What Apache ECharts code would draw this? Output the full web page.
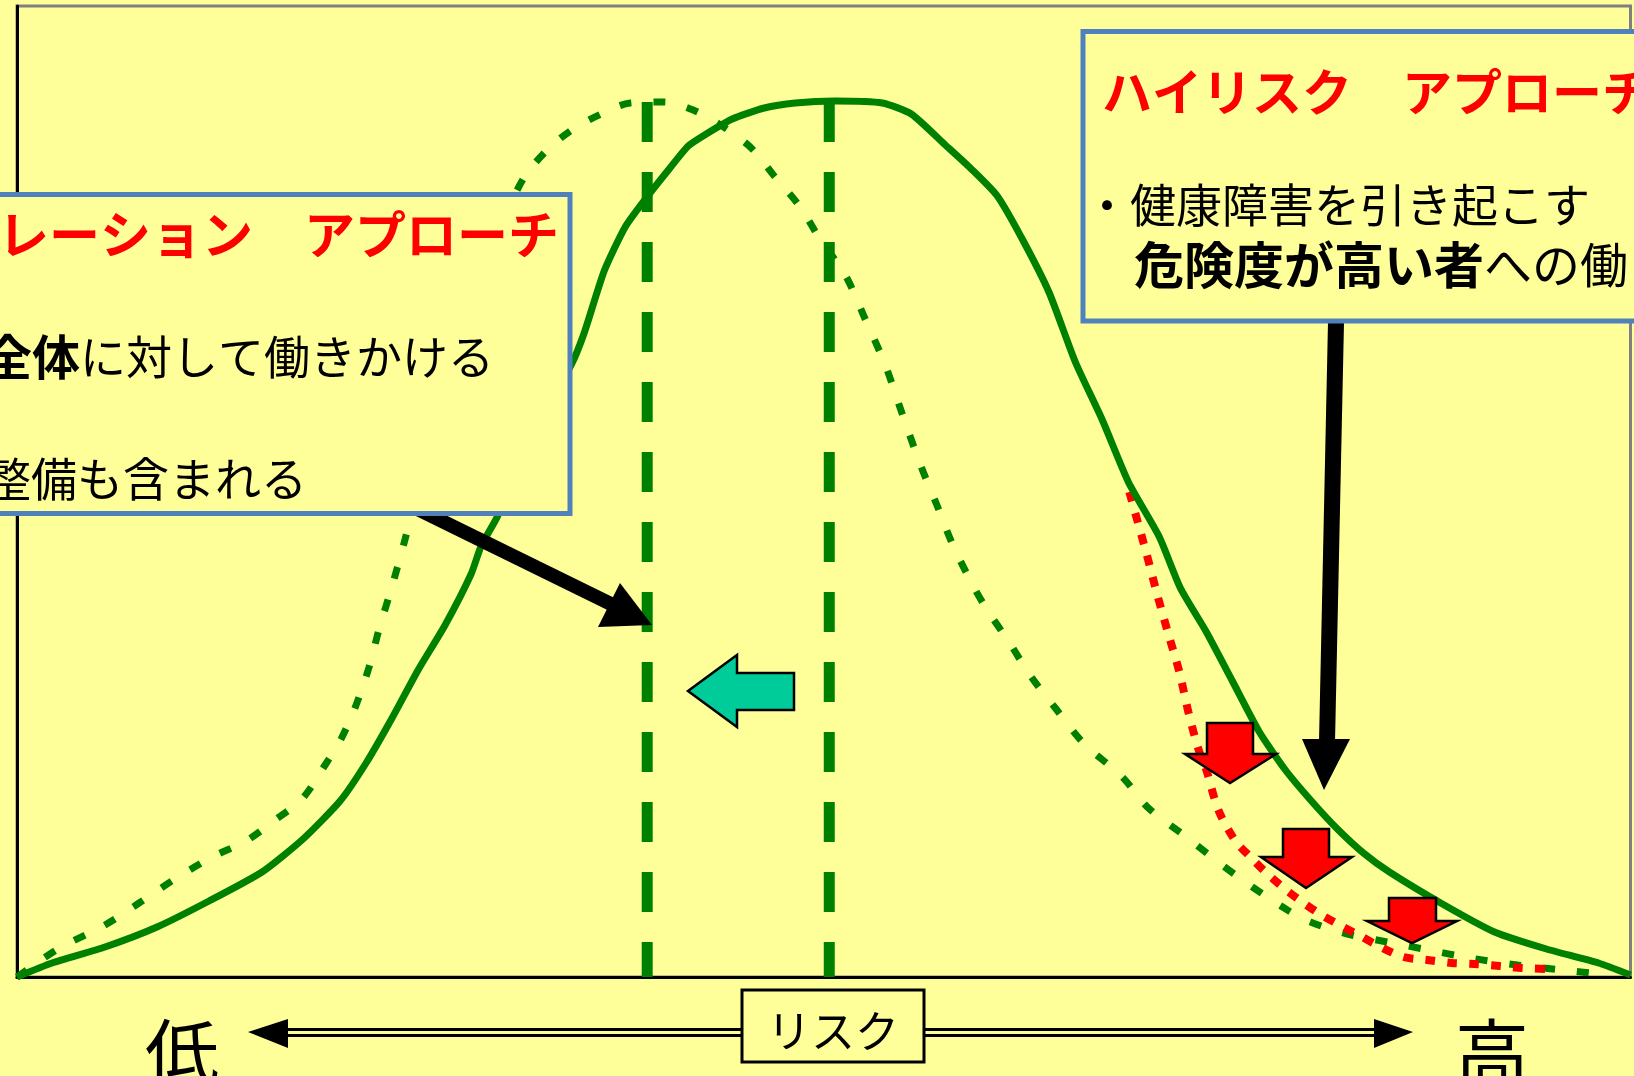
<!DOCTYPE html>
<html lang="ja">
<head>
<meta charset="utf-8">
<title>ポピュレーションアプローチとハイリスクアプローチ</title>
<script src="https://cdn.jsdelivr.net/npm/echarts@6/dist/echarts.min.js"></script>
<style>
    html, body { margin: 0; padding: 0; background: #FFFF99; }
    #chart { width: 1634px; height: 1076px; }
</style>
</head>
<body>
<div id="chart"></div>
<script>
    // リスク分布（横軸: リスク, 縦軸: 人数）
    var nowX = [0,35,88,140,192,245,286,323,349,375,401,428,454,464,480,513,554,567,587,608,629,652,671,689,715,747,778,818,865,894,928,954,980,1006,1032,1058,1085,1111,1142,1163,1189,1215,1242,1268,1294,1320,1346,1372,1425,1477,1529,1581,1613];
    var nowY = [0,14,30,50,76,105,138,176,214,259,307,352,403,431,460,537,612,644,706,750,779,808,831,843,858,869,874,876,874,863,832,808,781,736,684,615,557,495,440,389,345,296,245,207,176,148,124,105,73,45,28,14,2];

    // ポピュレーションアプローチ後（左へ移動した分布）
    var shiftX = [0,41,88,122,161,197,229,258,285,308,324,339,352,362,375,388,403,423,443,463,483,506,530,556,584,613,647,676,705,734,757,783,802,828,847,868,886,904,920,936,957,970,993,1014,1038,1066,1105,1131,1169,1202,1235,1270,1293,1330,1370,1406,1453,1500,1545,1593];
    var shiftY = [0,28,52,74,100,121,136,157,178,212,238,272,310,348,391,438,497,567,637,697,749,798,827,848,863,874,875,867,851,829,801,770,739,702,660,612,560,510,471,431,389,367,333,300,269,234,200,169,140,114,90,67,55,43,35,28,19,12,7,2];

    // ハイリスクアプローチ後（高リスク側のみ低下）
    var highX = [1112,1129,1140,1151,1162,1171,1181,1189,1201,1218,1232,1247,1264,1282,1301,1322,1343,1363,1386,1410,1434,1457,1482,1504,1529];
    var highY = [485,424,382,343,305,265,228,207,167,136,121,106,91,77,64,52,41,30,20,17,14,13,11,9,8];

    // 平均値（縦の破線）
    var meanX = [630, 812];
    var meanTop = 875;

    var BG = '#FFFF99';
    var GREEN = '#008000';
    var BOX = '#4F81BD';
    var JP = '"Noto Sans CJK JP", "Noto Sans CJK SC", sans-serif';

    function pairs(xs, ys) {
        var out = [];
        for (var i = 0; i < xs.length; i++) {
            out.push([xs[i], ys[i]]);
        }
        return out;
    }

    function txt(x, y, text, size, opt) {
        opt = opt || {};
        return {
            type: 'text', x: x, y: y, z: opt.z || 62,
            style: {
                text: text,
                fill: opt.fill || '#000',
                fontSize: size,
                fontFamily: JP,
                fontWeight: opt.bold ? 'bold' : 'normal',
                align: opt.align || 'left',
                verticalAlign: opt.valign || 'middle',
                rich: opt.rich
            }
        };
    }

    function downArrow(a, b, y0, y1, c, d, t, y2) {
        return {
            type: 'polygon', z: 55,
            shape: { points: [[a, y0], [b, y0], [b, y1], [d, y1], [t, y2], [c, y1], [a, y1]] },
            style: { fill: '#FF0000', stroke: '#000', lineWidth: 2.5 }
        };
    }

    var leftRich = {
        b: { fontSize: 48, fontWeight: 'bold', fontFamily: JP, fill: '#000' },
        n: { fontSize: 46, fontWeight: 'normal', fontFamily: JP, fill: '#000' }
    };
    var rightRich = {
        b: { fontSize: 50, fontWeight: 'bold', fontFamily: JP, fill: '#000' },
        n: { fontSize: 48, fontWeight: 'normal', fontFamily: JP, fill: '#000' },
        s: { fontSize: 46, fontWeight: 'normal', fontFamily: JP, fill: '#000' }
    };

    var graphics = [
        // 左の説明枠
        { type: 'rect', z: 60, shape: { x: -10, y: 194.5, width: 580, height: 319 },
          style: { fill: BG, stroke: BOX, lineWidth: 5 } },
        txt(-2, 235, 'レーション　アプローチ', 51, { fill: '#FF0000', bold: true }),
        txt(-16, 357, '{b|全体}{n|に対して働きかける}', 46, { rich: leftRich }),
        txt(-15, 479, '整備も含まれる', 46),

        // 右の説明枠
        { type: 'rect', z: 60, shape: { x: 1083, y: 31.5, width: 600, height: 289.5 },
          style: { fill: BG, stroke: BOX, lineWidth: 5 } },
        txt(1102, 92, 'ハイリスク　アプローチ', 50, { fill: '#FF0000', bold: true }),
        txt(1084, 205, '・健康障害を引き起こす', 46),
        txt(1088, 265, '{s|　}{b|危険度が高い者}{n|への働}', 46, { rich: rightRich }),

        // 黒矢印
        { type: 'line', z: 55, shape: { x1: 395, y1: 498, x2: 611, y2: 604 },
          style: { stroke: '#000', lineWidth: 14 } },
        { type: 'polygon', z: 55, shape: { points: [[652, 625], [598, 627], [620, 583]] },
          style: { fill: '#000' } },
        { type: 'line', z: 55, shape: { x1: 1336, y1: 322, x2: 1327, y2: 742 },
          style: { stroke: '#000', lineWidth: 16 } },
        { type: 'polygon', z: 55, shape: { points: [[1302, 739], [1350, 739], [1324, 790]] },
          style: { fill: '#000' } },

        // 左向き矢印（分布の移動）
        { type: 'polygon', z: 55,
          shape: { points: [[688, 691], [737, 655], [737, 673], [794, 673], [794, 710], [737, 710], [737, 727]] },
          style: { fill: '#00CC99', stroke: '#000', lineWidth: 2.5 } },

        // 赤い下向き矢印
        downArrow(1207, 1253, 723, 754, 1185, 1276, 1230, 783),
        downArrow(1283, 1329, 829, 857, 1261, 1352, 1306, 888),
        downArrow(1389, 1436, 898, 921, 1367, 1457, 1412, 943),

        // 下部のリスク軸
        txt(145, 1016, '低', 74, { valign: 'top' }),
        txt(1455, 1016, '高', 74, { valign: 'top' }),
        { type: 'polygon', z: 55, shape: { points: [[248, 1032], [288, 1019], [288, 1048]] }, style: { fill: '#000' } },
        { type: 'polygon', z: 55, shape: { points: [[1374, 1019], [1374, 1048], [1413, 1032]] }, style: { fill: '#000' } },
        { type: 'line', z: 55, shape: { x1: 288, y1: 1029.5, x2: 742, y2: 1029.5 }, style: { stroke: '#000', lineWidth: 3 } },
        { type: 'line', z: 55, shape: { x1: 288, y1: 1035.5, x2: 742, y2: 1035.5 }, style: { stroke: '#000', lineWidth: 3 } },
        { type: 'line', z: 55, shape: { x1: 924, y1: 1029.5, x2: 1374, y2: 1029.5 }, style: { stroke: '#000', lineWidth: 3 } },
        { type: 'line', z: 55, shape: { x1: 924, y1: 1035.5, x2: 1374, y2: 1035.5 }, style: { stroke: '#000', lineWidth: 3 } },
        { type: 'rect', z: 56, shape: { x: 742, y: 990, width: 182, height: 72 },
          style: { fill: BG, stroke: '#000', lineWidth: 3 } },
        txt(833, 1031, 'リスク', 44, { align: 'center' })
    ];

    var chart = echarts.init(document.getElementById('chart'), null, { renderer: 'canvas' });
    var option = {
        backgroundColor: BG,
        animation: false,
        grid: {
            left: 17, right: 3.5, top: 6, bottom: 99,
            show: true, borderColor: '#808080', borderWidth: 3
        },
        xAxis: {
            type: 'value', min: 0, max: 1613,
            axisLine: { show: true, onZero: false, lineStyle: { color: '#000', width: 3 } },
            axisTick: { show: false }, axisLabel: { show: false }, splitLine: { show: false }
        },
        yAxis: {
            type: 'value', min: 0, max: 971,
            axisLine: { show: true, onZero: false, lineStyle: { color: '#000', width: 3 } },
            axisTick: { show: false }, axisLabel: { show: false }, splitLine: { show: false }
        },
        series: [
            {
                name: '移動後', type: 'line', data: pairs(shiftX, shiftY),
                smooth: 0.3, showSymbol: false, z: 3,
                lineStyle: { color: GREEN, width: 7, type: [12, 22] }
            },
            {
                name: 'ハイリスク', type: 'line', data: pairs(highX, highY),
                smooth: 0.3, showSymbol: false, z: 3,
                lineStyle: { color: '#FF0000', width: 8, type: [10, 12] }
            },
            {
                name: '現状', type: 'line', data: pairs(nowX, nowY),
                smooth: 0.2, showSymbol: false, z: 4,
                lineStyle: { color: GREEN, width: 7 }
            },
            {
                name: '平均(移動後)', type: 'line', data: [[meanX[0], meanTop], [meanX[0], 0]],
                showSymbol: false, z: 4,
                lineStyle: { color: GREEN, width: 11, type: [40, 30] }
            },
            {
                name: '平均(現状)', type: 'line', data: [[meanX[1], meanTop], [meanX[1], 0]],
                showSymbol: false, z: 4,
                lineStyle: { color: GREEN, width: 11, type: [40, 30] }
            }
        ],
        graphic: { elements: graphics }
    };
    chart.setOption(option);
</script>
</body>
</html>
